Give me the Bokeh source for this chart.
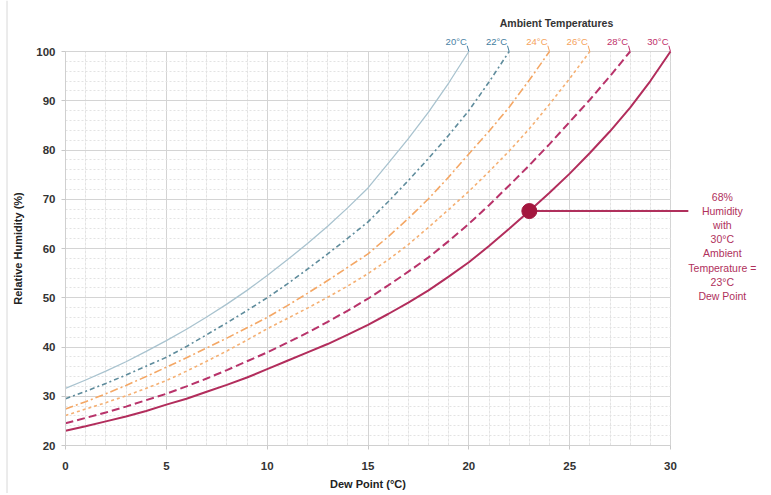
from bokeh.plotting import figure
from bokeh.models import Range1d, Label, FixedTicker, Span
from bokeh.core.properties import value
from bokeh.embed import file_html
from bokeh.resources import INLINE

# ---- data ----
ambient = [20, 22, 24, 26, 28, 30]
labels = ["20°C", "22°C", "24°C", "26°C", "28°C", "30°C"]
td20 = list(range(0, 21))
rh20 = [31.6, 33.3, 35.1, 37.0, 39.1, 41.3, 43.6, 46.1, 48.7, 51.5, 54.5, 57.7, 61.0, 64.5, 68.3, 72.3,
        77.3, 82.3, 87.7, 93.6, 100]
td22 = list(range(0, 23))
rh22 = [29.5, 31.0, 32.6, 34.3, 36.1, 37.9, 40.1, 42.5, 44.9, 47.4, 50.0, 52.8, 55.8, 58.9, 62.1, 65.4,
        69.5, 73.8, 78.3, 83.0, 88.0, 93.8, 100]
td24 = list(range(0, 25))
rh24 = [27.4, 28.9, 30.5, 32.2, 34.0, 35.9, 37.8, 39.8, 41.8, 43.9, 46.0, 48.4, 50.9, 53.5, 56.2, 58.9,
        62.4, 66.1, 70.1, 74.5, 79.2, 83.8, 88.7, 94.2, 100]
td26 = list(range(0, 27))
rh26 = [26.1, 27.4, 28.7, 30.1, 31.6, 33.2, 35.1, 37.1, 39.2, 41.4, 43.7, 45.8, 47.9, 50.1, 52.4, 54.9,
        57.7, 60.8, 64.3, 67.9, 71.6, 75.6, 79.8, 84.3, 89.3, 94.5, 100]
td28 = list(range(0, 29))
rh28 = [24.5, 25.6, 26.7, 27.9, 29.2, 30.5, 32.0, 33.6, 35.3, 37.1, 38.9, 40.9, 42.9, 45.1, 47.4, 49.8,
        52.5, 55.3, 58.2, 61.5, 65.0, 68.8, 72.8, 76.9, 81.2, 85.7, 90.2, 95.0, 100]
td30 = list(range(0, 31))
rh30 = [23.0, 23.9, 24.9, 25.9, 27.0, 28.3, 29.5, 30.9, 32.3, 33.8, 35.5, 37.2, 38.9, 40.6, 42.5, 44.5,
        46.7, 49.0, 51.5, 54.3, 57.2, 60.5, 64.0, 67.6, 71.3, 75.2, 79.4, 83.8, 88.6, 94.0, 100]
point_td = [23]
point_rh = [67.6]
note_lines = ["68%", "Humidity", "with", "30°C", "Ambient", "Temperature =", "23°C", "Dew Point"]
x_ticks = [0, 5, 10, 15, 20, 25, 30]
y_ticks = [20, 30, 40, 50, 60, 70, 80, 90, 100]
x_lim = (0, 30)
y_lim = (20, 100)

series = [(td20, rh20), (td22, rh22), (td24, rh24), (td26, rh26), (td28, rh28), (td30, rh30)]

# ---- styling / layout ----
line_colors = ["#a9c3cf", "#5f8c9c", "#f4a765", "#f5b073", "#b8336a", "#b22d5c"]
label_colors = ["#4a82a5", "#3f7d9e", "#f5a25c", "#f5a25c", "#c0306a", "#c0306a"]
dashes = ["solid", "5 3 2 3", "8 3 2 3", "3 3", "8 4", "solid"]
widths = [1.3, 1.6, 1.6, 1.6, 2.0, 2.0]
crimson = "#b0305c"
FONT = "Liberation Sans"

W, H = 763, 493
PLOT_L, PLOT_R, PLOT_T, PLOT_B = 65, 670, 51, 445   # pixel box of the data area
sx = (PLOT_R - PLOT_L) / (x_lim[1] - x_lim[0])
sy = (PLOT_B - PLOT_T) / (y_lim[1] - y_lim[0])
xr = Range1d(x_lim[0] - PLOT_L / sx, x_lim[1] + (W - PLOT_R) / sx)
yr = Range1d(y_lim[0] - (H - PLOT_B) / sy, y_lim[1] + PLOT_T / sy)

p = figure(width=W, height=H, output_backend="svg", toolbar_location=None,
           x_range=xr, y_range=yr, min_border=0)
p.outline_line_color = None

p.xaxis.fixed_location = y_lim[0]
p.yaxis.fixed_location = x_lim[0]
p.xaxis.bounds = x_lim
p.yaxis.bounds = y_lim
for ax, ticks in ((p.xaxis[0], x_ticks), (p.yaxis[0], y_ticks)):
    ax.ticker = FixedTicker(ticks=ticks)
    ax.axis_line_color = "#d0d0d0"
    ax.major_tick_line_color = "#c8c8c8"
    ax.major_tick_in = 0
    ax.major_tick_out = 4
    ax.minor_tick_line_color = None
    ax.major_label_text_font = FONT
    ax.major_label_text_font_style = "bold"
    ax.major_label_text_font_size = "11.5px"
    ax.major_label_text_color = "#333333"
    ax.axis_label_text_font = FONT
    ax.axis_label_text_font_style = "bold"
    ax.axis_label_text_font_size = "11px"
    ax.axis_label_text_color = "#222222"

p.xaxis.axis_label = "Dew Point (°C)"
p.yaxis.axis_label = "Relative Humidity (%)"
p.xaxis.major_label_standoff = 12
p.yaxis.major_label_standoff = 6
p.xaxis.axis_label_standoff = 5
p.yaxis.axis_label_standoff = 9

p.xgrid.ticker = FixedTicker(ticks=x_ticks, minor_ticks=list(range(x_lim[0], x_lim[1] + 1)))
p.ygrid.ticker = FixedTicker(ticks=y_ticks, minor_ticks=list(range(y_lim[0], y_lim[1] + 1, 2)))
for g in (p.xgrid[0], p.ygrid[0]):
    g.grid_line_color = "#d4d4d4"
p.xgrid.bounds = x_lim
p.xgrid.cross_bounds = y_lim
p.ygrid.bounds = y_lim
p.ygrid.cross_bounds = x_lim
p.xgrid.minor_grid_line_color = "#e3e3e3"
p.ygrid.minor_grid_line_color = "#e3e3e3"
p.ygrid.minor_grid_line_dash = "2 2"
p.xgrid.minor_grid_line_dash = "3 1"

# left border of the picture
p.add_layout(Span(location=xr.start + 6.5 / sx, dimension="height", line_color="#d8d8d8", line_width=1))

for (xs, ys), c, d, w in zip(series, line_colors, dashes, widths):
    p.line(xs, ys, line_color=c, line_dash=d, line_width=w)

# top labels (at each curve's end)
ends_x = [s[0][-1] for s in series]
ends_y = [s[1][-1] for s in series]
p.text(x=ends_x, y=ends_y, text=labels, text_color=label_colors, text_align="right",
       text_baseline="middle", x_offset=-2, y_offset=-10, text_font=value(FONT), text_font_size="9.5px")
p.ray(x=ends_x, y=ends_y, length=6, length_units="screen", angle=1.85, line_color=label_colors, line_width=1)
p.add_layout(Label(x=556, y=H - 22, x_units="screen", y_units="screen", text="Ambient Temperatures",
                   text_align="center", text_baseline="middle", text_font=FONT, text_font_size="10.5px",
                   text_font_style="bold", text_color="#333333"))

# annotation
p.ray(x=point_td, y=point_rh, length=159, length_units="screen", angle=0, line_color=crimson, line_width=2)
p.scatter(point_td, point_rh, size=15, fill_color="#a3163e", line_color="#a3163e")
n = len(note_lines)
p.text(x=point_td * n, y=point_rh * n, text=note_lines, x_offset=193,
       y_offset=[-14 + 14.1 * i for i in range(n)], text_align="center", text_baseline="middle",
       text_font=value(FONT), text_font_size="10.5px", text_color=crimson)

open("out.html", "w").write(file_html(p, INLINE))
